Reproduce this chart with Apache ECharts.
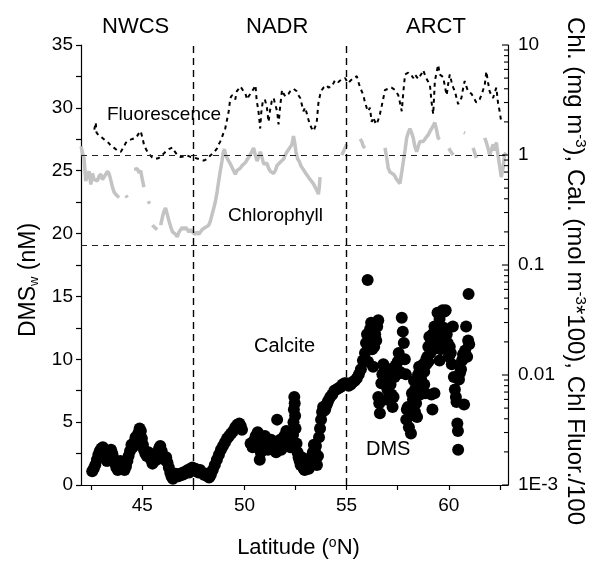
<!DOCTYPE html>
<html>
<head>
<meta charset="utf-8">
<script src="https://cdn.jsdelivr.net/npm/echarts@6/dist/echarts.min.js"></script>
<style>html,body{margin:0;padding:0;background:#fff;}#c{width:593px;height:561px;}</style>
</head>
<body>
<div id="c"></div>
<script>
// ---------- data ----------
const latMin = 42, latMax = 62.9;
const latTicks = [42.5, 45, 47.5, 50, 52.5, 55, 57.5, 60, 62.5];
const latLabels = [45, 50, 55, 60];
const logMajor = [0.001, 0.01, 0.1, 1, 10];
const logTicks = [0.001,0.002,0.003,0.004,0.005,0.006,0.007,0.008,0.009,
                  0.01,0.02,0.03,0.04,0.05,0.06,0.07,0.08,0.09,
                  0.1,0.2,0.3,0.4,0.5,0.6,0.7,0.8,0.9,
                  1,2,3,4,5,6,7,8,9,10];
const logLabelText = {0.001:'1E-3', 0.01:'0.01', 0.1:'0.1', 1:'1', 10:'10'};
const regionBounds = [47.5, 55];
const refLevels = [1, 0.15];
const regionNames = ['NWCS', 'NADR', 'ARCT'];

// DMS (nM), left axis
const dmsLat = [42.55,42.62,42.7,42.78,42.85,42.92,43.0,43.07,43.15,43.2,43.27,43.33,43.4,43.47,43.53,43.6,43.67,43.73,43.8,43.87,43.93,44.0,44.07,44.13,44.2,44.27,44.33,44.4,44.47,44.53,44.6,44.67,44.73,44.8,44.87,44.93,44.98,45.03,45.08,45.15,45.22,45.3,45.37,45.43,45.5,45.57,45.63,45.7,45.75,45.82,45.88,45.95,46.02,46.1,46.17,46.23,46.3,46.37,46.43,46.5,46.57,46.63,46.7,46.77,46.85,46.93,47.0,47.07,47.15,47.23,47.3,47.37,47.45,47.52,47.6,47.67,47.75,47.83,47.9,47.97,48.05,48.12,48.2,48.27,48.35,48.45,48.55,48.65,48.75,48.85,48.95,49.05,49.15,49.25,49.35,49.45,49.55,49.65,49.75,49.82,49.88,
  50.3,50.4,50.45,50.55,50.65,50.7,50.75,50.8,50.85,50.95,51.0,51.05,51.1,51.15,51.2,51.3,51.35,51.45,51.55,51.6,51.65,51.7,51.75,51.8,51.85,51.95,52.05,52.1,52.2,52.25,52.3,52.38,52.4,52.42,52.44,52.46,52.48,52.5,52.55,52.6,52.65,52.7,52.75,52.8,52.85,52.9,52.95,53.0,53.05,53.1,53.15,53.2,53.25,53.3,53.35,53.4,53.45,53.5,53.55,53.6,53.65,53.7,53.75,53.8,53.85,53.9,53.95,54.0,54.05,54.1,54.2,54.3,54.4,54.5,54.6,54.7,54.8,54.9,55.0,55.1,55.2,55.3,55.4,
  55.5,55.6,55.7,55.8,55.9,55.95,56.0,56.03,56.05,56.1,56.15,56.2,56.25,56.3,56.35,56.4,56.45,56.5,56.55,56.55,56.6,56.63,56.7,56.75,56.8,56.85,56.9,56.95,57.0,57.05,57.1,57.15,57.2,57.25,57.3,57.35,57.4,57.45,57.5,57.55,57.6,57.65,57.7,57.75,57.8,57.85,57.9,57.92,57.95,58.0,58.05,58.1,58.15,58.2,58.25,58.3,58.3,58.35,58.35,58.4,58.45,58.45,58.5,58.55,58.55,58.6,58.65,58.65,58.7,58.75,58.8,58.8,58.85,58.9,58.9,58.95,59.0,59.0,59.05,59.1,59.1,59.15,59.2,59.2,59.25,59.3,59.3,59.35,59.4,59.45,59.5,59.55,59.55,59.6,59.6,59.65,59.7,59.75,59.8,59.85,59.9,59.95,60.0,60.05,60.1,60.15,60.2,60.25,60.3,60.35,60.38,60.42,60.45,60.46,60.5,60.55,60.6,60.65,60.7,60.75,60.8,60.85,60.9,60.95,60.97,61.0];
const dmsVal = [1.1,1.3,1.6,2.0,2.4,2.7,2.9,3.0,2.6,2.2,1.9,2.2,2.6,2.8,2.5,2.1,1.7,1.4,1.2,1.5,1.9,1.6,1.3,1.2,1.5,1.9,2.3,2.7,3.2,3.0,3.4,3.8,3.5,4.1,4.5,4.3,3.7,3.2,2.8,2.5,2.3,2.6,2.2,2.0,1.7,1.9,2.3,2.0,2.5,2.9,3.1,2.7,2.3,2.0,2.2,1.8,1.4,1.0,0.7,0.5,0.7,0.9,0.8,0.7,0.9,0.8,1.0,0.9,1.1,1.2,1.0,1.3,1.4,1.2,1.3,1.1,1.0,1.2,1.0,0.9,0.8,0.9,0.7,0.6,0.8,1.2,1.6,2.0,2.4,2.8,3.1,3.4,3.7,3.9,4.1,4.3,4.6,4.8,4.9,4.7,4.4,
  3.3,3.0,3.5,3.9,4.2,3.7,2.0,2.6,3.2,3.6,3.9,3.4,3.0,2.8,3.3,3.6,3.2,3.0,2.6,5.2,3.4,3.0,3.6,2.8,3.2,3.9,4.3,3.7,3.5,3.0,3.3,4.0,5.0,6.0,7.0,6.5,5.5,4.5,3.3,2.6,2.2,1.9,1.6,2.2,1.5,1.3,1.2,1.4,1.3,1.6,1.3,1.8,2.2,1.9,2.6,3.2,2.7,3.1,1.6,2.3,3.8,4.5,5.2,5.8,6.2,5.9,6.0,6.3,6.5,6.7,7.0,7.2,7.5,7.6,7.7,7.8,8.0,8.1,8.1,7.9,8.0,8.2,8.3,
  8.5,8.8,9.2,9.9,10.5,11.3,12.0,16.3,9.8,11.2,12.4,12.9,10.8,9.4,11.0,12.0,11.5,12.6,13.1,7.0,6.5,5.7,8.1,8.8,9.6,9.0,8.0,6.8,7.6,8.5,9.2,8.0,7.2,6.2,7.0,8.6,9.5,8.8,9.8,10.5,9.0,8.9,13.3,12.2,11.3,10.0,8.8,5.2,6.0,6.2,4.6,5.5,4.1,7.3,6.8,8.3,6.5,5.8,7.6,6.5,5.4,8.0,8.8,9.4,8.0,7.2,8.4,9.0,7.8,9.6,8.0,9.0,7.3,10.0,9.6,10.2,11.0,9.8,11.8,10.5,11.2,7.2,6.0,12.0,10.8,7.3,12.6,12.0,12.6,13.7,11.5,9.9,13.2,10.8,12.3,11.0,13.9,12.5,13.8,13.9,12.0,11.3,10.2,11.0,10.5,9.6,12.6,8.6,7.6,7.0,6.6,4.9,4.3,2.8,8.4,8.9,9.2,9.9,10.4,6.4,10.7,12.6,10.2,11.5,15.2,11.2];

// Chl fluorescence / 100, right log axis
const fluLat = [42.65,42.72,42.76,42.8,42.88,42.96,43.05,43.13,43.21,43.29,43.37,43.45,43.54,43.62,43.7,43.78,43.86,43.95,44.03,44.11,44.19,44.27,44.35,44.44,44.52,44.6,44.68,44.76,44.84,44.92,45.0,45.08,45.16,45.25,45.33,45.41,45.49,45.57,45.65,45.73,45.81,45.9,45.98,46.06,46.14,46.22,46.3,46.39,46.47,46.55,46.63,46.71,46.79,46.87,46.95,47.04,47.12,47.2,47.28,47.36,47.44,47.52,47.6,47.68,47.77,47.85,47.93,48.01,48.09,48.17,48.25,48.33,48.42,48.5,48.58,48.66,48.74,48.82,48.9,48.98,49.06,49.15,49.23,49.31,49.39,49.45,49.55,49.63,49.72,49.8,49.88,49.95,50.05,50.13,50.2,50.29,50.37,50.45,50.54,50.6,50.66,50.72,50.77,50.82,50.9,51.0,51.1,51.18,51.26,51.34,51.43,51.5,51.6,51.67,51.75,51.84,51.92,52.0,52.08,52.16,52.24,52.33,52.4,52.48,52.56,52.64,52.73,52.81,52.89,52.97,53.05,53.13,53.2,53.29,53.38,53.46,53.54,53.62,53.7,53.79,53.87,53.95,54.03,54.11,54.2,54.28,54.36,54.44,54.52,54.6,54.68,54.76,54.84,54.93,55.01,55.09,55.17,55.25,55.33,55.41,55.5,55.58,55.66,55.74,55.82,55.9,55.98,56.06,56.14,56.23,56.3,56.39,56.47,56.55,56.63,56.72,56.8,56.88,56.96,57.04,57.12,57.2,57.29,57.37,57.45,57.53,57.61,57.7,57.78,57.86,57.94,58.02,58.1,58.18,58.26,58.34,58.43,58.51,58.59,58.67,58.75,58.84,58.92,59.0,59.08,59.16,59.24,59.32,59.4,59.48,59.56,59.65,59.73,59.81,59.9,59.97,60.05,60.14,60.22,60.3,60.38,60.46,60.54,60.62,60.7,60.78,60.86,60.95,61.03,61.11,61.19,61.27,61.35,61.43,61.51,61.6,61.68,61.76,61.84,61.92,62.0,62.08,62.17,62.25,62.33,62.41,62.49,62.57];
const fluVal = [1.7,1.97,1.6,1.59,1.5,1.45,1.43,1.4,1.35,1.33,1.28,1.22,1.18,1.16,1.12,1.1,1.08,1.07,1.1,1.2,1.29,1.33,1.36,1.39,1.4,1.42,1.43,1.5,1.58,1.65,1.45,1.25,1.15,1.07,1.02,0.98,0.95,0.93,0.92,0.91,0.94,0.97,1.0,1.04,1.07,1.1,1.13,1.15,1.17,1.1,1.05,1.0,0.98,0.96,0.95,0.97,0.98,0.99,0.97,0.96,0.95,0.95,0.94,0.93,0.92,0.91,0.9,0.89,0.88,0.92,0.95,0.99,1.02,1.05,1.07,1.15,1.25,1.33,1.45,1.6,1.74,2.1,2.5,3.3,3.5,3.6,3.2,3.8,4.0,4.2,4.0,3.8,3.6,3.2,3.4,3.6,3.5,4.0,4.3,3.1,2.7,2.2,1.74,2.4,3.1,3.2,2.7,2.0,2.6,3.1,3.3,2.9,2.5,1.9,2.8,3.9,3.6,3.4,3.3,3.6,3.8,3.9,4.0,4.1,3.8,3.5,3.3,3.3,2.5,2.7,2.4,2.1,1.9,1.75,1.65,1.8,2.0,2.97,3.5,3.9,4.1,4.2,4.3,4.1,4.2,4.2,4.5,4.8,4.9,4.6,4.7,4.9,4.8,5.0,4.7,4.5,4.7,4.9,5.0,5.1,5.2,4.6,4.1,3.8,3.5,3.0,2.7,2.5,2.7,2.0,2.2,2.0,1.9,2.1,2.35,2.8,3.3,3.9,4.0,4.0,4.0,4.1,4.1,3.9,3.7,3.5,3.0,2.5,3.8,5.4,5.5,5.6,5.6,5.3,5.0,5.4,5.2,4.9,5.2,5.5,5.9,5.3,4.9,4.6,4.3,3.0,2.35,4.7,5.6,6.6,5.4,5.3,5.1,4.2,3.5,4.4,5.4,4.6,4.1,3.8,3.3,2.9,3.1,3.3,4.0,4.7,4.2,3.8,3.7,3.6,3.5,3.2,3.0,2.9,3.2,3.5,3.9,4.3,5.75,4.6,3.8,3.5,3.3,3.7,4.1,3.0,2.5,2.0];

// Chlorophyll (mg m-3), right log axis; null = gap in record
const chlLat = [42.0,42.1,42.15,42.23,42.32,42.4,42.48,42.56,42.64,42.72,42.8,42.88,42.97,43.05,43.13,43.2,43.29,43.37,43.45,43.54,43.62,43.7,43.78,43.86,43.95,44.2,44.27,44.4,44.6,44.68,44.76,44.84,44.92,45.0,45.08,45.2,45.3,45.35,45.42,45.49,45.6,45.73,45.8,45.9,46.0,46.07,46.14,46.22,46.31,46.4,46.48,46.55,46.63,46.71,46.8,46.88,46.96,47.04,47.12,47.2,47.28,47.36,47.44,47.52,47.6,47.68,47.77,47.85,47.93,48.01,48.1,48.17,48.25,48.33,48.42,48.5,48.58,48.66,48.74,48.82,48.9,48.96,49.02,49.08,49.15,49.23,49.31,49.39,49.47,49.55,49.63,49.72,49.8,49.88,49.96,50.04,50.12,50.2,50.28,50.37,50.45,50.53,50.62,50.7,50.78,50.86,50.94,51.02,51.1,51.18,51.27,51.35,51.43,51.51,51.59,51.67,51.75,51.84,51.92,52.0,52.08,52.16,52.24,52.32,52.4,52.46,52.52,52.6,52.68,52.76,52.84,52.92,53.0,53.08,53.13,53.21,53.29,53.37,53.46,53.54,53.62,53.66,53.7,54.3,54.76,54.84,54.92,55.0,55.3,55.66,55.74,55.82,55.9,56.3,56.88,56.96,57.04,57.12,57.2,57.29,57.37,57.45,57.53,57.61,57.7,57.78,57.86,57.94,58.02,58.1,58.18,58.26,58.34,58.43,58.51,58.59,58.67,58.75,58.84,58.92,59.0,59.08,59.16,59.24,59.32,59.4,59.48,59.56,59.8,60.0,60.05,60.14,60.22,60.5,60.74,60.8,61.0,61.19,61.27,61.35,61.55,61.76,61.84,61.92,62.0,62.08,62.17,62.25,62.33,62.41,62.49,62.57,62.65,62.73,62.8];
const chlVal = [1.2,1.0,0.94,0.58,0.66,0.71,0.54,0.68,0.6,0.62,0.58,0.64,0.67,0.6,0.58,0.66,0.71,0.68,0.6,0.51,0.46,0.44,0.43,0.41,null,0.43,0.41,null,0.74,0.71,0.75,0.69,0.72,0.6,0.51,null,0.38,0.36,null,0.23,0.22,0.21,null,0.23,0.28,0.31,0.33,0.29,0.25,0.22,0.2,0.2,0.19,0.18,0.2,0.21,0.22,0.21,0.22,0.21,0.2,0.21,0.2,0.2,0.19,0.2,0.19,0.2,0.21,0.21,0.22,0.22,0.23,0.25,0.29,0.33,0.38,0.46,0.58,0.72,0.88,1.05,1.13,1.0,0.94,0.88,0.83,0.8,0.72,0.67,0.72,0.74,0.76,0.8,0.8,0.85,0.9,0.95,1.0,1.08,1.16,1.0,0.88,0.98,1.07,0.95,0.83,0.86,0.84,0.76,0.71,0.69,0.68,0.72,0.8,0.83,0.86,0.88,0.92,1.0,1.07,1.12,1.18,1.24,1.49,1.3,1.07,0.92,0.88,0.8,0.76,0.72,0.68,0.65,0.63,0.6,0.58,0.55,0.53,0.48,0.44,0.5,0.63,null,1.0,1.07,1.15,1.25,null,1.4,1.33,1.2,1.16,null,1.16,0.95,0.76,0.7,0.72,0.67,0.64,0.6,0.58,0.55,0.7,0.88,1.1,1.43,1.6,1.74,1.6,1.43,1.2,1.07,1.2,1.33,1.35,1.33,1.4,1.45,1.53,1.64,1.74,1.85,1.97,1.7,1.43,1.39,null,1.15,1.13,1.05,1.0,null,1.6,1.58,null,1.16,1.05,0.94,null,1.43,1.3,1.16,1.0,1.1,1.25,1.1,1.3,1.0,0.8,0.63,0.75,1.0,1.05];

// ---------- chart ----------
const FONT = "'Liberation Sans', Arial, sans-serif";
const pairs = (xs, ys) => xs.map((x, i) => [x, ys[i] === null ? '-' : ys[i]]);

const chart = echarts.init(document.getElementById('c'), null, {renderer: 'canvas'});
chart.setOption({
  animation: false,
  backgroundColor: '#fff',
  textStyle: {fontFamily: FONT, color: '#000'},
  grid: {left: 81, right: 85, top: 45, bottom: 76, containLabel: false, outerBoundsMode: 'none'},
  xAxis: {
    type: 'value', min: latMin, max: latMax,
    axisLine: {show: true, lineStyle: {color: '#000', width: 1.2}},
    axisTick: {show: true, customValues: latTicks, length: 5, lineStyle: {color: '#000', width: 1.2}},
    axisLabel: {customValues: latLabels, fontSize: 19, color: '#000', margin: 11, fontFamily: FONT},
    splitLine: {show: false},
    name: 'Latitude ({sup|o}N)', nameLocation: 'middle', nameGap: 51, nameMoveOverlap: false,
    nameTextStyle: {fontSize: 22, color: '#000', fontFamily: FONT, padding: [0, 0, 0, 8],
      rich: {sup: {fontSize: 14, color: '#000', fontFamily: FONT, padding: [0, 0, 10, 0]}}}
  },
  yAxis: [{
    type: 'value', min: 0, max: 35, interval: 2.5, position: 'left',
    axisLine: {show: true, lineStyle: {color: '#000', width: 1.2}},
    axisTick: {show: true, length: 5, lineStyle: {color: '#000', width: 1.2}},
    axisLabel: {fontSize: 19, color: '#000', margin: 8, fontFamily: FONT,
      formatter: v => (v % 5 === 0 ? String(v) : '')},
    splitLine: {show: false},
    name: 'DMS{sub|w} (nM)', nameLocation: 'middle', nameGap: 40,
    nameTextStyle: {fontSize: 23, color: '#000', fontFamily: FONT, padding: [0, 30, 0, 0],
      rich: {sub: {fontSize: 13, color: '#000', fontFamily: FONT, padding: [12, 0, 0, 0]}}}
  }, {
    type: 'log', logBase: 10, min: 0.001, max: 10, position: 'right',
    axisLine: {show: true, lineStyle: {color: '#000', width: 1.2}},
    axisTick: {show: false},
    axisLabel: {customValues: logMajor, fontSize: 19, color: '#000', margin: 10, fontFamily: FONT,
      formatter: v => logLabelText[v] !== undefined ? logLabelText[v] : String(v)},
    splitLine: {show: false},
    name: 'Chl. (mg m{sup|-3}), Cal. (mol m{sup|-3}*100), Chl Fluor./100',
    nameLocation: 'middle', nameGap: 54, nameRotate: -90, nameMoveOverlap: false,
    nameTextStyle: {fontSize: 24, color: '#000', fontFamily: FONT, padding: [0, 0, 0, 12],
      rich: {sup: {fontSize: 15, color: '#000', fontFamily: FONT, padding: [0, 0, 11, 0]}}}
  }],
  graphic: [
    {type: 'text', left: 102, top: 16, style: {text: regionNames[0], fontSize: 22, fontFamily: FONT, fill: '#000'}},
    {type: 'text', left: 246, top: 16, style: {text: regionNames[1], fontSize: 22, fontFamily: FONT, fill: '#000'}},
    {type: 'text', left: 406, top: 16, style: {text: regionNames[2], fontSize: 22, fontFamily: FONT, fill: '#000'}},
    {type: 'text', left: 107, top: 105, style: {text: 'Fluorescence', fontSize: 19, fontFamily: FONT, fill: '#000'}},
    {type: 'text', left: 228, top: 206, style: {text: 'Chlorophyll', fontSize: 19, fontFamily: FONT, fill: '#000'}},
    {type: 'text', left: 254, top: 336, style: {text: 'Calcite', fontSize: 20, fontFamily: FONT, fill: '#000'}},
    {type: 'text', left: 366, top: 439, style: {text: 'DMS', fontSize: 20, fontFamily: FONT, fill: '#000'}}
  ],
  series: [{
    name: 'Chlorophyll', type: 'line', yAxisIndex: 1, data: pairs(chlLat, chlVal),
    showSymbol: false, connectNulls: false, z: 2,
    lineStyle: {color: '#c3c3c3', width: 3.5},
    markLine: {silent: true, symbol: 'none', label: {show: false},
      lineStyle: {color: '#222', type: [6, 5], width: 1.2},
      data: refLevels.map(v => ({yAxis: v}))}
  }, {
    name: 'Fluorescence', type: 'line', yAxisIndex: 1, data: pairs(fluLat, fluVal),
    showSymbol: false, z: 3,
    lineStyle: {color: '#000', width: 2, type: [4, 4]}
  }, {
    name: 'DMS', type: 'scatter', yAxisIndex: 0, data: pairs(dmsLat, dmsVal),
    symbol: 'circle', symbolSize: 12, z: 4,
    itemStyle: {color: '#000', opacity: 1},
    markLine: {silent: true, symbol: 'none', label: {show: false},
      lineStyle: {color: '#000', type: [7, 5], width: 1.4},
      data: regionBounds.map(v => ({xAxis: v}))}
  }, {
    // inward log-axis ticks (major + minor) placed through the axis scale
    name: 'logTicks', type: 'custom', yAxisIndex: 1, silent: true, z: 5, clip: false,
    data: logTicks.map(v => [latMax, v]),
    renderItem: (params, api) => {
      const v = api.value(1);
      const p = api.coord([api.value(0), v]);
      const len = logMajor.indexOf(v) >= 0 ? 6 : 4;
      return {type: 'line', shape: {x1: p[0] - len, y1: p[1], x2: p[0], y2: p[1]},
              style: {stroke: '#000', lineWidth: 1.1}};
    }
  }]
});
</script>
</body>
</html>
